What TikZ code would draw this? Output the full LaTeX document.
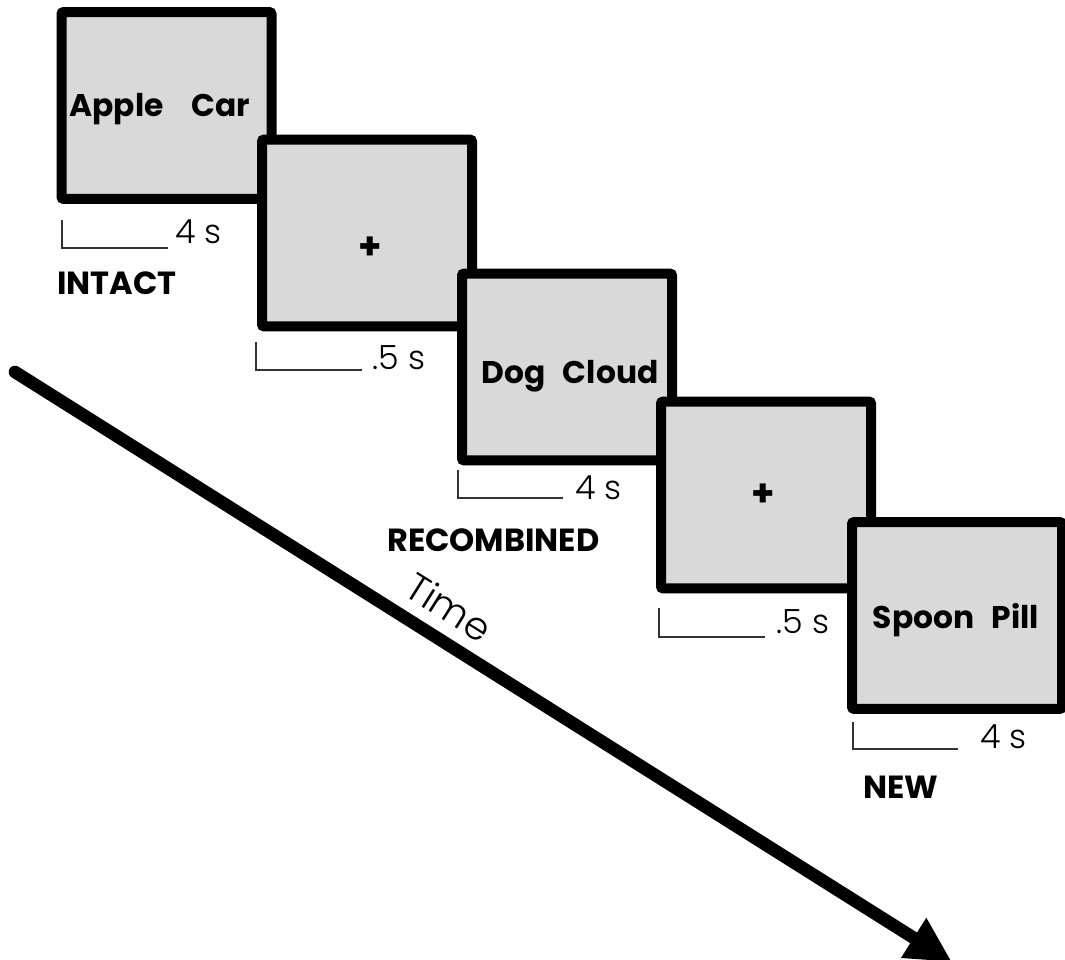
\documentclass[tikz,border=0pt]{standalone}
\usepackage{fontspec}
\setmainfont{Poppins}
\newfontfamily\thinfont{Poppins Light}
\usetikzlibrary{arrows.meta}
\definecolor{screengray}{RGB}{217,217,217}

\begin{document}
\begin{tikzpicture}[x=0.75pt,y=-0.75pt,
  screen/.style={draw,fill=screengray,line width=7.5pt,rounded corners=1.5pt,
    minimum width=157.5pt,minimum height=140pt,inner sep=0pt},
  word/.style={inner sep=0pt,text height=16.5pt,text depth=0pt,
    font=\fontsize{23.5}{28}\selectfont\bfseries},
  cross/.style={inner sep=0pt,font=\fontsize{28}{32}\selectfont\bfseries},
  timing/.style={draw=black!80,line width=0.9pt},
  dur/.style={anchor=base west,inner sep=0pt,font=\fontsize{25}{30}\selectfont\thinfont},
  cond/.style={anchor=base west,inner sep=0pt,font=\fontsize{24}{28}\selectfont\bfseries},
  timeline/.style={line width=9.5pt,line cap=round,-{Triangle[length=34pt,width=33pt]}}]
  \useasboundingbox (0,0) rectangle (1065,960);

  % screens, later ones on top
  \node[screen] (intact) at (166.5,105.5) {};
  \node[word] (intactw) at (160,105) {Apple\hspace{21pt}Car};
  \node[screen] (fix1) at (367,233) {};
  \node[cross] (fix1w) at (370,248) {+};
  \node[screen] (recomb) at (567,367) {};
  \node[word] (recombw) at (570,372) {Dog\hspace{13pt}Cloud};
  \node[screen] (fix2) at (766,495) {};
  \node[cross] (fix2w) at (763,495) {+};
  \node[screen] (new) at (957,615.5) {};
  \node[word] (neww) at (956,617) {Spoon\hspace{13pt}Pill};

  % durations
  \draw[timing] (62,220) -- (62,248) -- (168,248);
  \node[dur] (d1) at (175,243) {4 s};
  \draw[timing] (256,342) -- (256,370) -- (362,370);
  \node[dur] (d2) at (372,369) {.5 s};
  \draw[timing] (458,470) -- (458,498) -- (563,498);
  \node[dur] (d3) at (575,499) {4 s};
  \draw[timing] (659,608) -- (659,637) -- (765,637);
  \node[dur] (d4) at (776,633) {.5 s};
  \draw[timing] (853,722) -- (853,749) -- (958,749);
  \node[dur] (d5) at (980,748) {4 s};

  % conditions
  \node[cond] (c1) at (57,294) {INTACT};
  \node[cond] (c2) at (387,551) {RECOMBINED};
  \node[cond] (c3) at (863,798) {NEW};

  % time axis
  \coordinate (tstart) at (15,372);
  \coordinate (tend) at (952,962);
  \draw[timeline] (tstart) -- (tend);
  \node[rotate=-32.2,inner sep=0pt,font=\fontsize{29}{32}\selectfont\thinfont] (time) at (449,607) {Time};
\end{tikzpicture}
\end{document}
